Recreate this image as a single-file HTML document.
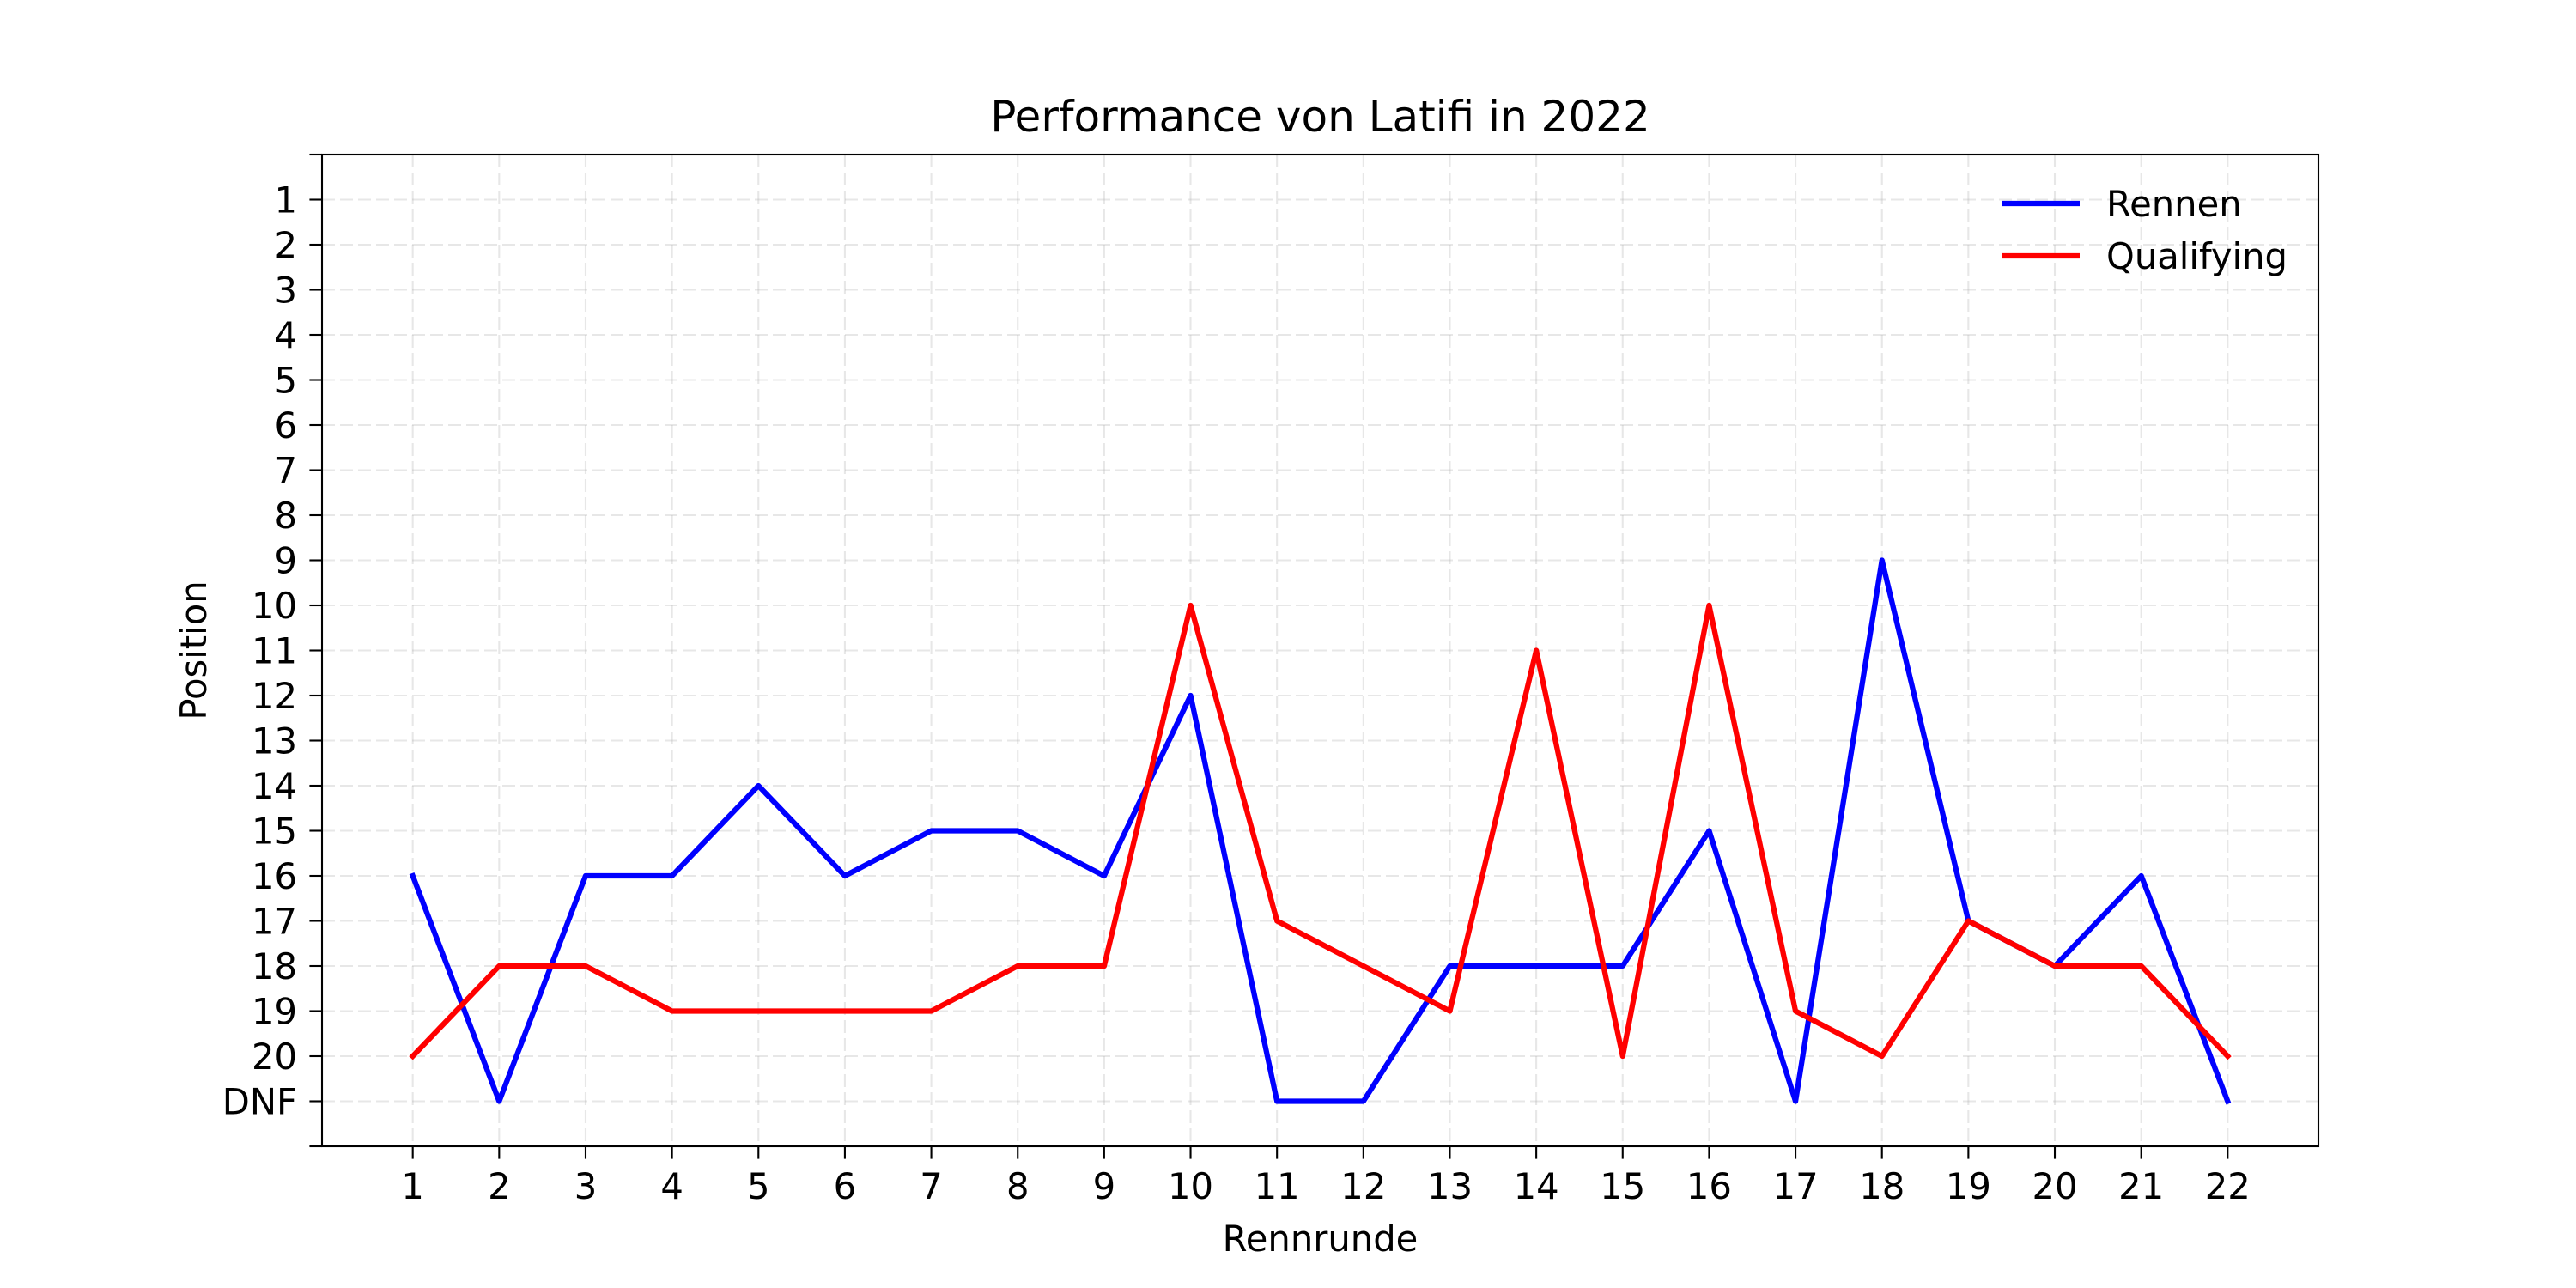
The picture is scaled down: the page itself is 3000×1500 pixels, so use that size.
<!DOCTYPE html>
<html><head><meta charset="utf-8"><style>
body{margin:0;background:#fff}
svg{display:block;font-family:"DejaVu Sans","Liberation Sans",sans-serif}
</style></head><body>
<svg id="chart" width="3000" height="1500" viewBox="0 0 3000 1500" xmlns="http://www.w3.org/2000/svg">
<rect width="3000" height="1500" fill="#fff"/>
<g id="grid"></g>
<g id="series"></g>
<rect x="375" y="180" width="2325" height="1155" fill="none" stroke="#000" stroke-width="2.1"/>
<g id="ticks"></g>
<text x="1537.5" y="153" font-size="50" text-anchor="middle">Performance von Latifi in 2022</text>
<text x="1537.5" y="1457" font-size="41.7" text-anchor="middle">Rennrunde</text>
<text transform="translate(240,757.5) rotate(-90)" font-size="41.7" text-anchor="middle">Position</text>
<g>
<line x1="2332" y1="237" x2="2422" y2="237" stroke="#0000ff" stroke-width="6.25"/>
<text x="2453" y="252" font-size="41.7">Rennen</text>
<line x1="2332" y1="298" x2="2422" y2="298" stroke="#ff0000" stroke-width="6.25"/>
<text x="2453" y="313" font-size="41.7">Qualifying</text>
</g>
</svg>
<script>
const rounds = [1,2,3,4,5,6,7,8,9,10,11,12,13,14,15,16,17,18,19,20,21,22];
const rennen = [16,21,16,16,14,16,15,15,16,12,21,21,18,18,18,15,21,9,17,18,16,21];
const qualifying = [20,18,18,19,19,19,19,18,18,10,17,18,19,11,20,10,19,20,17,18,18,20];
const yTickValues = [0,1,2,3,4,5,6,7,8,9,10,11,12,13,14,15,16,17,18,19,20,21,22];
const yTickLabels = ["","1","2","3","4","5","6","7","8","9","10","11","12","13","14","15","16","17","18","19","20","DNF",""];

const L=375,R=2700,T=180,B=1335;
const xMin=-0.05,xMax=23.05,yMin=0,yMax=22;
const xs=v=>L+(v-xMin)/(xMax-xMin)*(R-L);
const ys=v=>T+(v-yMin)/(yMax-yMin)*(B-T);
const NS="http://www.w3.org/2000/svg";
const grid=document.getElementById('grid'),ticks=document.getElementById('ticks'),series=document.getElementById('series');
function mk(tag,attrs,parent){const e=document.createElementNS(NS,tag);for(const k in attrs)e.setAttribute(k,attrs[k]);parent.appendChild(e);return e;}

yTickValues.forEach((v,i)=>{
  const y=ys(v);
  const g=mk('line',{x1:L,x2:R,y1:y,y2:y,stroke:'#b0b0b0','stroke-opacity':0.3,'stroke-width':2.1,'stroke-dasharray':'15,6'},grid);
  
  
  const t=mk('line',{x1:L-14.6,x2:L,y1:y,y2:y,stroke:'#000','stroke-width':2.1},ticks);
  
  
  const tx=mk('text',{x:L-29,y:y+15,'font-size':41.7,'text-anchor':'end'},ticks);
  tx.textContent=yTickLabels[i];
  
  
});
rounds.forEach(r=>{
  const x=xs(r);
  const g=mk('line',{x1:x,x2:x,y1:T,y2:B,stroke:'#b0b0b0','stroke-opacity':0.3,'stroke-width':2.1,'stroke-dasharray':'15,6'},grid);
  
  
  const t=mk('line',{x1:x,x2:x,y1:B,y2:B+14.6,stroke:'#000','stroke-width':2.1},ticks);
  
  
  const tx=mk('text',{x:x,y:B+61,'font-size':41.7,'text-anchor':'middle'},ticks);
  tx.textContent=String(r);
  
  
});
function drawLine(vals,color,name){
  const p=mk('polyline',{points:vals.map((v,i)=>xs(rounds[i])+','+ys(v)).join(' '),fill:'none',stroke:color,'stroke-width':6.25,'stroke-linejoin':'round','stroke-linecap':'square'},series);
  
  
}
drawLine(rennen,'#0000ff','rennen-line');
drawLine(qualifying,'#ff0000','qualifying-line');
</script>
</body></html>
